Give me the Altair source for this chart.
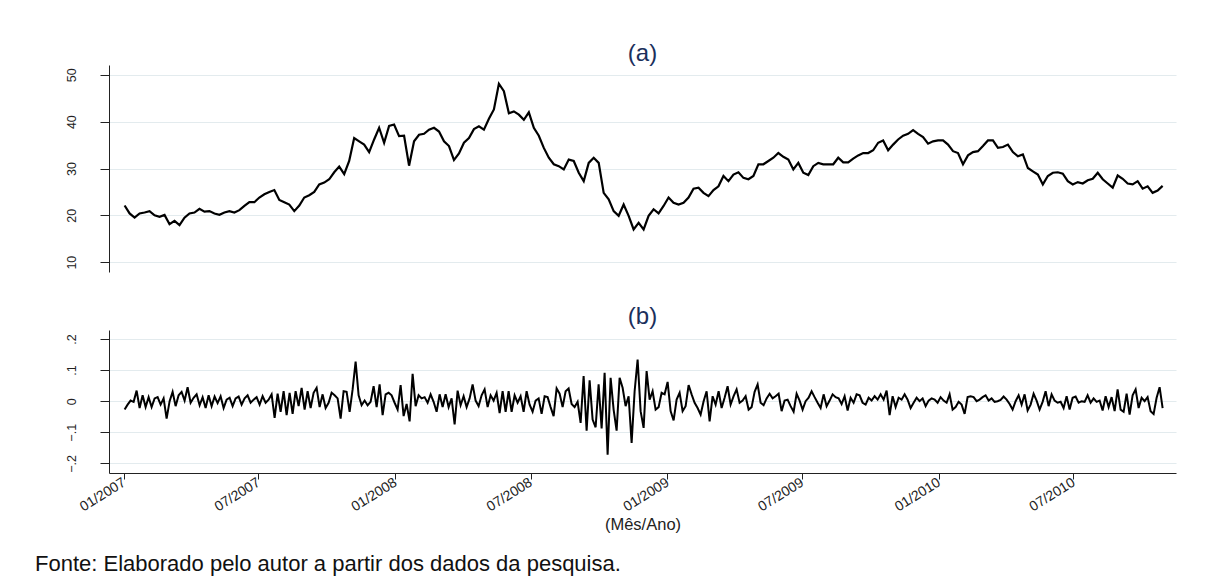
import altair as alt
import pandas as pd

# Série de preços (painel a), leitura aproximadamente semanal
preco = [
    22.1, 20.4, 19.5, 20.4, 20.6, 20.9, 20.0, 19.7, 20.1, 18.1,
    18.8, 17.9, 19.5, 20.4, 20.6, 21.4, 20.8, 20.9, 20.4, 20.1,
    20.6, 20.9, 20.6, 21.1, 22.0, 22.8, 22.8, 23.8, 24.5, 25.0,
    25.4, 23.3, 22.8, 22.3, 20.9, 22.1, 23.8, 24.3, 25.0, 26.6,
    27.0, 27.7, 29.2, 30.4, 28.8, 31.6, 36.5, 35.8, 35.1, 33.5,
    36.2, 38.7, 35.5, 39.1, 39.4, 36.9, 37.0, 30.6, 35.8, 37.2,
    37.4, 38.3, 38.7, 37.9, 35.8, 34.8, 31.8, 33.2, 35.5, 36.5,
    38.4, 39.0, 38.3, 40.6, 42.6, 48.1, 46.5, 41.8, 42.2, 41.5,
    40.4, 42.0, 38.7, 37.0, 34.4, 32.3, 30.9, 30.5, 29.8, 31.9,
    31.6, 29.1, 27.3, 31.2, 32.3, 31.2, 24.8, 23.4, 20.9, 19.9,
    22.3, 19.9, 17.0, 18.4, 17.0, 19.9, 21.3, 20.4, 22.0, 23.8,
    22.7, 22.3, 22.7, 23.8, 25.7, 25.9, 24.8, 24.1, 25.4, 26.2,
    28.4, 27.3, 28.7, 29.2, 28.0, 27.7, 28.4, 30.9, 30.9, 31.6,
    32.3, 33.3, 32.5, 31.9, 29.8, 31.2, 29.1, 28.6, 30.5, 31.2,
    30.9, 30.9, 30.9, 32.3, 31.3, 31.3, 32.1, 32.8, 33.3, 33.3,
    33.9, 35.5, 36.0, 33.9, 35.1, 36.2, 37.0, 37.4, 38.2, 37.4,
    36.7, 35.3, 35.8, 36.0, 36.0, 35.1, 33.7, 33.3, 30.9, 32.8,
    33.5, 33.7, 34.8, 36.0, 36.0, 34.4, 34.6, 35.1, 33.5, 32.6,
    33.0, 30.1, 29.4, 28.7, 26.6, 28.4, 29.1, 29.2, 28.9, 27.3,
    26.6, 27.1, 26.8, 27.5, 27.8, 29.1, 27.7, 26.8, 25.9, 28.5,
    27.8, 26.8, 26.6, 27.3, 25.7, 26.2, 24.8, 25.3, 26.3,
]

# Retornos (painel b)
retorno = [
    -0.027, -0.011, 0.002, -0.002, 0.034, -0.022, 0.019, -0.019, 0.013, -0.019,
    0.009, 0.013, -0.011, 0.009, -0.056, 0.000, 0.030, -0.016, 0.019, 0.030,
    0.002, 0.045, -0.005, 0.011, 0.022, -0.013, 0.013, -0.022, 0.019, -0.016,
    0.015, -0.006, 0.016, -0.022, 0.005, 0.011, -0.016, 0.009, 0.015, -0.011,
    0.009, 0.019, -0.005, 0.005, 0.013, -0.011, 0.016, -0.005, 0.005, 0.022,
    -0.054, 0.024, -0.034, 0.032, -0.045, 0.027, -0.041, 0.032, -0.016, 0.043,
    -0.027, 0.032, -0.022, 0.027, 0.043, -0.019, 0.022, -0.022,
    -0.005, 0.027, 0.019, 0.009, -0.056, 0.032, 0.030, -0.034, 0.038, 0.127,
    0.019, -0.013, 0.002, -0.013, -0.002, 0.048, -0.019, 0.054, -0.045, 0.022,
    0.027, 0.019, -0.005, -0.027, 0.052, -0.048, -0.009, -0.065, 0.088, -0.016,
    0.019, 0.009, 0.013, -0.005, 0.022, -0.002, -0.034, 0.022, -0.019, 0.022,
    -0.019, 0.009, -0.075, 0.034, -0.013, 0.016, -0.019, 0.009, 0.054, 0.002,
    -0.016, 0.019, 0.038, -0.019, 0.019, 0.002, 0.027, -0.038, 0.032, -0.034,
    0.032, -0.034, 0.019, -0.005, 0.016, -0.034, 0.032, -0.011,
    -0.034, 0.002, 0.009, -0.041, 0.016, 0.013, -0.019, -0.048, 0.041, 0.024,
    -0.019, 0.032, 0.041, -0.009, -0.019, -0.002, -0.070, 0.081, -0.095, 0.067,
    -0.059, -0.084, 0.054, -0.088, 0.091, -0.172, 0.075, -0.027, -0.095, 0.075,
    0.043, -0.016, 0.016, -0.134, 0.032, 0.134, -0.032, -0.086, 0.097, 0.005,
    0.032, -0.027, -0.019, 0.027, 0.022, 0.062, -0.032, -0.062, 0.005, 0.027,
    -0.032, -0.016, 0.052, 0.022, -0.005, -0.022, -0.043, 0.000, 0.032, -0.065,
    0.016, -0.011, 0.032, -0.022, 0.011, 0.048, -0.011, 0.016, 0.038, -0.005,
    0.002, 0.016, -0.027, -0.019, 0.030, 0.054, -0.005, -0.013, 0.009, 0.024,
    0.009, 0.016, 0.024, -0.032, 0.002, 0.005, -0.016, -0.034, 0.024, 0.002,
    -0.027, 0.000, 0.011, 0.032, 0.013, -0.005, -0.022, 0.022, -0.016, 0.002,
    0.022, 0.013, 0.009, -0.009, 0.016, -0.030, 0.011, -0.005, 0.022, 0.019,
    -0.005, -0.011, 0.011, 0.002, 0.016, 0.005, 0.022, 0.005, 0.034, -0.045,
    0.016, -0.019, 0.011, 0.005, 0.022, 0.005, -0.022, -0.005, 0.011, 0.000,
    0.009, -0.016, 0.002, 0.009, 0.005, -0.005, 0.013, 0.002, -0.005, 0.022,
    -0.027, -0.019, -0.002, -0.011, -0.041, 0.013, 0.016, 0.013, 0.000, 0.005,
    0.013, 0.019, 0.002, 0.009, -0.002, 0.000, 0.004, 0.015, 0.005, -0.009,
    -0.027, 0.000, 0.019, -0.011, 0.022, -0.030, -0.011, 0.024, 0.002, -0.027,
    -0.002, 0.032, -0.016, 0.022, 0.002, -0.005, -0.002, -0.022, 0.016, -0.027,
    0.011, 0.015, -0.005, 0.000, -0.002, 0.019, -0.005, 0.009, -0.002, 0.002,
    -0.030, 0.016, -0.019, 0.013, -0.032, 0.038, -0.027, -0.034, 0.024, -0.043,
    0.019, 0.038, -0.022, 0.011, 0.000, 0.013, -0.032, -0.041, 0.011, 0.045,
    -0.022,
]

inicio, fim = "2007-01-02", "2010-10-29"
df_preco = pd.DataFrame({"data": pd.date_range(inicio, fim, periods=len(preco)), "valor": preco})
df_ret = pd.DataFrame({"data": pd.date_range(inicio, fim, periods=len(retorno)), "retorno": retorno})

marcas_x = [(2007, 1), (2007, 7), (2008, 1), (2008, 7), (2009, 1), (2009, 7), (2010, 1), (2010, 7)]
valores_x = [alt.DateTime(year=a, month=m, date=1) for a, m in marcas_x]
dominio_x = [alt.DateTime(year=2006, month=12, date=12), alt.DateTime(year=2010, month=11, date=16)]

FONTE = "Liberation Sans"
AZUL = "#1b2f5c"
TINTA = "#222222"
GRADE = "#e3ebee"
W = 1067

eixo_y = dict(
    title=None, labelAngle=270, labelAlign="center", labelBaseline="bottom",
    labelFont=FONTE, labelFontSize=12.5, labelColor=TINTA, labelPadding=22,
    tickSize=9, tickColor=TINTA, domainColor=TINTA, domainWidth=1,
    grid=True, gridColor=GRADE, gridWidth=1.2,
)


def titulo(texto, deslocamento):
    return alt.TitleParams(texto, font=FONTE, fontSize=24, fontWeight="normal",
                           color=AZUL, anchor="middle", offset=deslocamento)


painel_a = alt.Chart(df_preco, title=titulo("(a)", -1)).mark_line(
    color="black", strokeWidth=2.2
).encode(
    x=alt.X("data:T", scale=alt.Scale(domain=dominio_x), axis=None),
    y=alt.Y("valor:Q", scale=alt.Scale(domain=[7.9, 52.1], nice=False, zero=False),
            axis=alt.Axis(values=[10, 20, 30, 40, 50], **eixo_y)),
).properties(width=W, height=207)

painel_b = alt.Chart(df_ret, title=titulo("(b)", 1)).mark_line(
    color="black", strokeWidth=2.0
).encode(
    x=alt.X("data:T", scale=alt.Scale(domain=dominio_x),
            axis=alt.Axis(values=valores_x, format="%m/%Y", title="(Mês/Ano)",
                          labelAngle=328, labelAlign="right", labelBaseline="middle",
                          labelFont=FONTE, labelFontSize=14, labelColor=TINTA,
                          labelPadding=2, tickSize=6, tickColor=TINTA,
                          domainColor=TINTA, grid=False,
                          titleFont=FONTE, titleFontSize=16.5, titleFontWeight="normal",
                          titleColor=TINTA, titleY=51, titleBaseline="middle")),
    y=alt.Y("retorno:Q", scale=alt.Scale(domain=[-0.231, 0.229], nice=False, zero=False),
            axis=alt.Axis(values=[-0.2, -0.1, 0, 0.1, 0.2],
                          labelExpr="datum.value == 0 ? '0' : replace(format(datum.value, '.1f'), '0.', '.')",
                          **eixo_y)),
).properties(width=W, height=143)

chart = alt.vconcat(painel_a, painel_b, spacing=33).properties(
    title=alt.TitleParams("Fonte: Elaborado pelo autor a partir dos dados da pesquisa.",
                          orient="bottom", anchor="start", frame="bounds",
                          font=FONTE, fontSize=22, fontWeight="normal", color="#111111",
                          offset=21, dx=-30),
    padding={"left": 35, "top": 42, "right": 10, "bottom": 3},
    background="white",
).configure_view(stroke=None)

chart.save("out.html", embed_options={"renderer": "svg", "actions": False})
